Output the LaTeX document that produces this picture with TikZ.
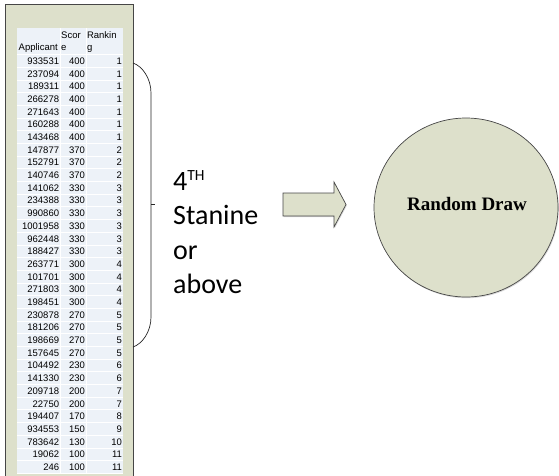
\documentclass[tikz,border=0pt]{standalone}
\usepackage{fontspec}
\setmainfont{Carlito}
\newfontfamily\tablefont{Liberation Sans}
\newfontfamily\titlefont{Liberation Serif}
\usetikzlibrary{shapes.geometric,shadows}
\definecolor{khaki}{RGB}{221,224,203}
\definecolor{cellbg}{RGB}{237,242,248}
\definecolor{edgegray}{RGB}{70,70,70}
\tikzset{
  panelline/.style={draw=edgegray,line width=0.8pt},
  cell/.style={inner sep=0pt,font=\tablefont\fontsize{9.5}{11}\selectfont},
  softshadow/.style={drop shadow={opacity=0.3,shadow xshift=0.8pt,shadow yshift=-1.2pt}},
  shape fill/.style={fill=khaki,draw=edgegray,line width=0.7pt},
  bracket/.style={draw=black!85,line width=0.7pt},
}
\begin{document}
\begin{tikzpicture}[x=1pt,y=-1pt]
\useasboundingbox (0,0) rectangle (559,475);

% spreadsheet window
\fill[khaki] (5,4) rectangle (133,482);
\draw[panelline] (5,482) -- (5,4) -- (133,4) -- (133,482);

% grid of cells
\fill[cellbg] (17,28) rectangle (123,473.4);
\foreach \k in {0,...,33}{
  \pgfmathsetmacro\yy{54.65+\k*12.69}
  \draw[white,line width=1pt] (17,\yy) -- (123,\yy);
}
\draw[white,line width=1pt] (60,28) -- (60,473.4);
\draw[white,line width=1pt] (86,28) -- (86,473.4);
\draw[white,line width=1pt] (17,473.4) -- (123,473.4);

% header
\node (hApp)  [cell,anchor=base west] at (18.5,50.5) {Applicant};
\node (hSc1)  [cell,anchor=base west] at (61,38.5) {Scor};
\node (hSc2)  [cell,anchor=base west] at (61,50.5) {e};
\node (hRk1)  [cell,anchor=base west] at (86.8,38.5) {Rankin};
\node (hRk2)  [cell,anchor=base west] at (86.8,50.5) {g};

% data rows
\foreach \a/\s/\r [count=\i from 0] in {
  933531/400/1, 237094/400/1, 189311/400/1, 266278/400/1, 271643/400/1,
  160288/400/1, 143468/400/1, 147877/370/2, 152791/370/2, 140746/370/2,
  141062/330/3, 234388/330/3, 990860/330/3, 1001958/330/3, 962448/330/3,
  188427/330/3, 263771/300/4, 101701/300/4, 271803/300/4, 198451/300/4,
  230878/270/5, 181206/270/5, 198669/270/5, 157645/270/5, 104492/230/6,
  141330/230/6, 209718/200/7, 22750/200/7, 194407/170/8, 934553/150/9,
  783642/130/10, 19062/100/11, 246/100/11}{
  \pgfmathsetmacro\yb{61+\i*12.69+3.4}
  \node (app\i) [cell,anchor=base east] at (59.3,\yb) {\a};
  \node (sc\i)  [cell,anchor=base east] at (85.2,\yb) {\s};
  \node (rk\i)  [cell,anchor=base east] at (122.2,\yb) {\r};
}

% curly bracket round the upper rows
\coordinate (btop) at (133,63);
\coordinate (bbot) at (133,347);
\coordinate (bmid) at (151,204);
\coordinate (btip) at (154.5,204);
\draw[bracket] (btop) .. controls (142,66) and (151,78) .. (151,93)
  -- (151,317) .. controls (151,332) and (142,344) .. (bbot);
\draw[bracket] (bmid) -- (btip);

% caption of the bracket
\node (cap) [anchor=base west,inner sep=0pt,font=\fontsize{28}{34.5}\selectfont]
  at (173,190)
  {\begin{tabular}[t]{@{}l@{}}4\raisebox{9.3pt}{\fontsize{15.5}{16}\selectfont TH}\\Stanine\\or\\above\end{tabular}};

% block arrow
\coordinate (ar1) at (283,193);
\coordinate (ar2) at (334,193);
\coordinate (ar3) at (334,182);
\coordinate (ar4) at (346,204.5);
\coordinate (ar5) at (334,227);
\coordinate (ar6) at (334,216);
\coordinate (ar7) at (283,216);
\path[shape fill,softshadow] (ar1) -- (ar2) -- (ar3) -- (ar4) -- (ar5) -- (ar6) -- (ar7) -- cycle;

% random draw
\node (draw) [ellipse,shape fill,softshadow,minimum width=184pt,minimum height=179pt,inner sep=0pt]
  at (466,207.5) {};
\node (drawtext) [inner sep=0pt,font=\titlefont\bfseries\fontsize{19}{22}\selectfont]
  at (467,204.3) {Random Draw};
\end{tikzpicture}
\end{document}
